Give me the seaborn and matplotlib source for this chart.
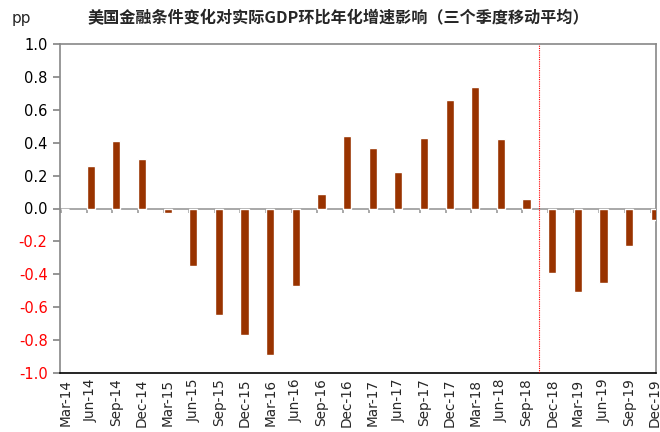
import pandas as pd
import numpy as np
import seaborn as sns
import matplotlib.pyplot as plt

quarters = ["Mar-14", "Jun-14", "Sep-14", "Dec-14", "Mar-15", "Jun-15", "Sep-15", "Dec-15",
            "Mar-16", "Jun-16", "Sep-16", "Dec-16", "Mar-17", "Jun-17", "Sep-17", "Dec-17",
            "Mar-18", "Jun-18", "Sep-18", "Dec-18", "Mar-19", "Jun-19", "Sep-19", "Dec-19"]
impact = [0.0, 0.26, 0.41, 0.30, -0.03, -0.35, -0.65, -0.77,
          -0.89, -0.47, 0.09, 0.44, 0.37, 0.22, 0.43, 0.66,
          0.74, 0.42, 0.06, -0.395, -0.51, -0.455, -0.227, -0.069]
yticks = [1.0, 0.8, 0.6, 0.4, 0.2, 0.0, -0.2, -0.4, -0.6, -0.8, -1.0]
split_after = "Sep-18"

df = pd.DataFrame({"quarter": quarters, "impact": impact})

sns.set_theme(style="white")
plt.rcParams["font.family"] = ["DejaVu Sans"]

fig = plt.figure(figsize=(6.6, 4.32), dpi=100)
ax = fig.add_axes([60 / 660, 59 / 432, 596 / 660, 329 / 432])

sns.barplot(data=df, x="quarter", y="impact", color="#993300", width=0.32,
            saturation=1, ax=ax, zorder=3)

n = len(quarters)
ax.set_xlim(-0.2, n - 0.95)
ax.set_ylim(-1.0, 1.0)
ax.set_yticks(yticks)
ax.set_yticklabels([f"{v:.1f}" for v in yticks], fontsize=10.5)
for lab, v in zip(ax.get_yticklabels(), yticks):
    lab.set_color("red" if v < 0 else "black")

ax.set_xticks(range(n))
ax.set_xticklabels(quarters, rotation=90, fontsize=9.8)
ax.tick_params(axis="x", length=0, pad=4)
ax.tick_params(axis="y", length=5, color="#888888", direction="out", left=True, pad=4)
ax.set_xlabel("")
ax.set_ylabel("")

# zero line with small category ticks
ax.axhline(0, color="#999999", lw=1.2, zorder=2)
ax.vlines(np.arange(n) - 0.16, -0.03, 0, color="#999999", lw=1.2, zorder=2)

# dotted separator
pos = quarters.index(split_after) + 0.5
ax.axvline(pos, color="red", lw=0.8, ls=(0, (1, 1)), zorder=4)

for side in ["left", "top", "right"]:
    ax.spines[side].set_visible(True)
    ax.spines[side].set_color("#888888")
    ax.spines[side].set_linewidth(1.2)
ax.spines["bottom"].set_color("black")
ax.spines["bottom"].set_linewidth(1.2)

fig.text(0.512, 0.957, "美国金融条件变化对实际GDP环比年化增速影响（三个季度移动平均）",
         ha="center", va="center", fontsize=11.6, fontweight="black",
         family=["Noto Sans CJK SC", "DejaVu Sans"])
fig.text(0.033, 0.957, "pp", ha="center", va="center", fontsize=11)

fig.savefig("out.png", dpi=100)
